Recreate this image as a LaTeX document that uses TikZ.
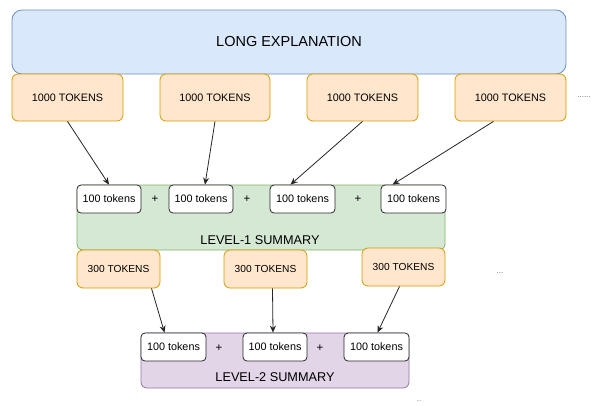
\documentclass[tikz,border=0pt]{standalone}
\usepackage{fontspec}
\setmainfont{Liberation Sans}
\usetikzlibrary{arrows.meta,calc}
\definecolor{bfill}{HTML}{DAE8FC}\definecolor{bdraw}{HTML}{6C8EBF}
\definecolor{ofill}{HTML}{FFE6CC}\definecolor{odraw}{HTML}{D79B00}
\definecolor{gfill}{HTML}{D5E8D4}\definecolor{gdraw}{HTML}{82B366}
\definecolor{pfill}{HTML}{E1D5E7}\definecolor{pdraw}{HTML}{9673A6}
\definecolor{dotgray}{HTML}{666666}
\tikzset{
  box/.style={draw, line width=0.8pt, inner sep=0pt, align=center},
  bluebox/.style={box, fill=bfill, draw=bdraw, rounded corners=10pt, font=\fontsize{14.5}{16}\selectfont},
  orangebox/.style={box, fill=ofill, draw=odraw, rounded corners=6pt, font=\fontsize{10.8}{12}\selectfont},
  greenbox/.style={box, fill=gfill, draw=gdraw, rounded corners=6pt},
  purplebox/.style={box, fill=pfill, draw=pdraw, rounded corners=6pt},
  whitebox/.style={box, fill=white, draw=black!85, rounded corners=4pt, font=\fontsize{10.8}{12}\selectfont},
  lbl/.style={inner sep=0pt, font=\fontsize{12.7}{14}\selectfont},
  plus/.style={inner sep=0pt, font=\fontsize{11.5}{12}\selectfont},
  dots/.style={inner sep=0pt, text=dotgray, font=\fontsize{8}{9}\selectfont},
  conn/.style={draw=black!85, line width=0.8pt, -{Stealth[length=7pt,width=6pt]}},
}
\begin{document}
\begin{tikzpicture}[x=1pt,y=-1pt]
\useasboundingbox (0,0) rectangle (591,405);
% top
\node[bluebox, minimum width=554pt, minimum height=64pt] (long) at (289,42) {LONG EXPLANATION};
\node[orangebox, minimum width=111pt, minimum height=47pt] (o1) at (67.5,97.5) {1000 TOKENS};
\node[orangebox, minimum width=110pt, minimum height=47pt] (o2) at (215,97.5) {1000 TOKENS};
\node[orangebox, minimum width=111pt, minimum height=47pt] (o3) at (362.5,97.5) {1000 TOKENS};
\node[orangebox, minimum width=111pt, minimum height=47pt] (o4) at (510.5,97.5) {1000 TOKENS};
\node[dots] (d1) at (584,97) {......};
% level 1
\node[greenbox, minimum width=368pt, minimum height=65pt] (g) at (261,217.5) {};
\node[lbl] (gl) at (260,240) {LEVEL-1 SUMMARY};
\node[whitebox, minimum width=64pt, minimum height=28pt] (a) at (109,199) {100 tokens};
\node[whitebox, minimum width=64pt, minimum height=28pt] (b) at (201,199) {100 tokens};
\node[whitebox, minimum width=65pt, minimum height=28pt] (c) at (302.5,199) {100 tokens};
\node[whitebox, minimum width=65pt, minimum height=28pt] (d) at (413.5,199) {100 tokens};
\node[plus] (p1) at (155,199) {+};
\node[plus] (p2) at (247,199) {+};
\node[plus] (p3) at (358,199) {+};
% 300 tokens
\node[orangebox, minimum width=83pt, minimum height=38pt, font=\fontsize{10.2}{12}\selectfont] (t1) at (118.5,269) {300 TOKENS};
\node[orangebox, minimum width=83pt, minimum height=38pt, font=\fontsize{10.2}{12}\selectfont] (t2) at (265.5,269) {300 TOKENS};
\node[orangebox, minimum width=83pt, minimum height=38pt, font=\fontsize{10.2}{12}\selectfont] (t3) at (403.5,267) {300 TOKENS};
\node[dots] (d2) at (500,273) {...};
% level 2
\node[purplebox, minimum width=268pt, minimum height=55pt] (pp) at (275,360.5) {};
\node[lbl] (pl) at (275,377) {LEVEL-2 SUMMARY};
\node[whitebox, minimum width=65pt, minimum height=28pt] (q1) at (173.5,347) {100 tokens};
\node[whitebox, minimum width=64pt, minimum height=28pt] (q2) at (275,347) {100 tokens};
\node[whitebox, minimum width=65pt, minimum height=28pt] (q3) at (376.5,347) {100 tokens};
\node[plus] (r1) at (219,348) {+};
\node[plus] (r2) at (320,348) {+};
\node[dots, font=\fontsize{6}{7}\selectfont] (d3) at (419,401) {...};
% connectors level 1
\draw[conn] (o1.south) -- (a.north);
\draw[conn] (o2.south) -- ($(b.north)+(4,0)$);
\draw[conn] (o3.south) -- ($(c.north)+(-12,0)$);
\draw[conn] ($(o4.south)+(-17,0)$) -- ($(d.north)+(-21,0)$);
% connectors level 2
\draw[conn] ($(t1.south)+(33,0)$) -- ($(q1.north)+(-9,0)$);
\draw[conn] ($(t2.south)+(7,0)$) -- ($(q2.north)+(-2,0)$);
\draw[conn] ($(t3.south)+(-4,0)$) -- ($(q3.north)+(1,0)$);
\end{tikzpicture}
\end{document}
